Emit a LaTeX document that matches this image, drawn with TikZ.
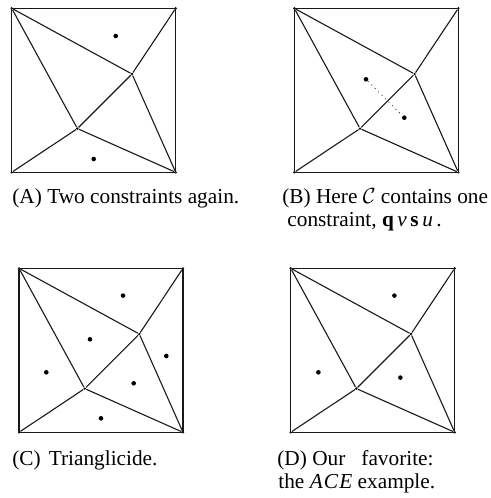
\documentclass[tikz,border=0pt]{standalone}
\usepackage{fontspec}
\setmainfont{Liberation Serif}
\usetikzlibrary{positioning}
\tikzset{
  edg/.style={line width=.55pt, draw=black!90},
  vtx/.style={circle, fill=black, inner sep=0pt, minimum size=1.3pt},
  site/.style={circle, fill=black, inner sep=0pt, minimum size=2.3pt},
  link/.style={dotted, line width=.45pt, draw=black!75},
  captxt/.style={anchor=base west, inner sep=0pt, font=\fontsize{10.65}{11.75}\selectfont},
}
% square of side 164 with two inner vertices, #1 = prefix, (#2,#3) = top left
\newcommand{\mesh}[3]{%
  \begin{scope}[shift={(#2,#3)}]
    \node[vtx] (#1tl) at (0,0) {};
    \node[vtx] (#1tr) at (164,0) {};
    \node[vtx] (#1bl) at (0,164) {};
    \node[vtx] (#1br) at (164,164) {};
    \node[vtx] (#1u) at (120.3,65.7) {};
    \node[vtx] (#1l) at (65.7,120.3) {};
  \end{scope}
  \draw[edg] (#1tl.center) -- (#1tr.center) -- (#1br.center) -- (#1bl.center) -- cycle;
  \draw[edg] (#1tl) -- (#1u);
  \draw[edg] (#1tr) -- (#1u);
  \draw[edg] (#1br) -- (#1u);
  \draw[edg] (#1u) -- (#1l);
  \draw[edg] (#1tl) -- (#1l);
  \draw[edg] (#1bl) -- (#1l);
  \draw[edg] (#1br) -- (#1l);
}

\begin{document}
\begin{tikzpicture}[x=.5pt, y=-.5pt]
  \useasboundingbox (0,0) rectangle (491,498);

  % (A)
  \mesh{a}{11.7}{8.3}
  \node[site] (a1) at (115.7,36) {};
  \node[site] (a2) at (93.7,159) {};
  \node[captxt] (capa) at (12,203) {(A) Two constraints again.};

  % (B)
  \mesh{b}{294.3}{8.3}
  \node[site] (b1) at (366,79.3) {};
  \node[site] (b2) at (404.3,117.7) {};
  \draw[link] (b1) -- (b2);
  \node[captxt] (capb) at (282,203) {(B) Here $\mathcal{C}$ contains one};
  \node[captxt] (capbb) at (287,226) {constraint, \textbf{q}\,\textit{v}\,\textbf{s}\,\textit{u}\,.};

  % (C)
  \mesh{c}{19}{268.3}
  \node[site] (c1) at (123,295.6) {};
  \node[site] (c2) at (90,339.3) {};
  \node[site] (c3) at (46.3,372.3) {};
  \node[site] (c4) at (166.3,356) {};
  \node[site] (c5) at (133.7,383.3) {};
  \node[site] (c6) at (101,418.3) {};
  \node[captxt] (capc) at (12,465) {(C)\hspace{4pt}Trianglicide.};

  % (D)
  \mesh{d}{290.7}{268.3}
  \node[site] (d1) at (394.4,295.6) {};
  \node[site] (d2) at (318.4,372.3) {};
  \node[site] (d3) at (400.4,377.6) {};
  \node[captxt] (capd) at (277,465) {(D) Our\hspace{8pt}favorite:};
  \node[captxt] (capdd) at (278,488) {the \textit{A\kern.6pt C\kern.6pt E} example.};
\end{tikzpicture}
\end{document}
